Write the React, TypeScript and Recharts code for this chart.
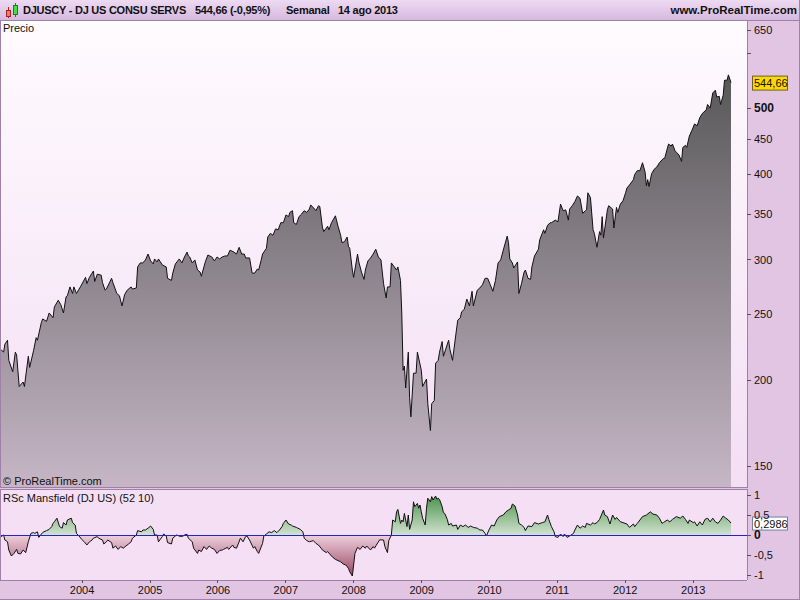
import React from 'react'
import { Area, AreaChart, ReferenceLine, XAxis, YAxis } from 'recharts'

// weekly bars, week 0 = 22 Oct 2002
const START = Date.UTC(2002, 9, 22)
const WEEK_MS = 7 * 24 * 3600 * 1000
const X_DOMAIN: [number, number] = [0, 573.3]

const yearLabels = ['2004', '2005', '2006', '2007', '2008', '2009', '2010', '2011', '2012', '2013']

const priceWeeks = [
  0, 2, 3, 5, 6, 9, 11, 12, 14, 17,
  18, 21, 22, 25, 27, 28, 31, 32, 35, 37,
  40, 41, 44, 46, 48, 50, 51, 53, 55, 56,
  58, 61, 65, 66, 68, 71, 72, 74, 77, 78,
  80, 81, 85, 86, 89, 91, 93, 95, 97, 100,
  101, 104, 105, 107, 109, 111, 113, 115, 117, 118,
  120, 121, 124, 127, 128, 131, 132, 134, 137, 139,
  141, 143, 144, 145, 147, 149, 151, 153, 154, 157,
  159, 162, 164, 166, 168, 170, 172, 174, 176, 179,
  181, 183, 185, 187, 188, 191, 193, 195, 197, 198,
  200, 201, 204, 205, 207, 209, 211, 213, 215, 217,
  219, 221, 222, 224, 225, 227, 229, 231, 233, 235,
  237, 238, 241, 242, 244, 245, 247, 248, 251, 252,
  254, 257, 259, 261, 262, 264, 266, 267, 268, 270,
  271, 274, 275, 277, 279, 280, 282, 284, 286, 288,
  290, 292, 294, 296, 297, 299, 300, 304, 305, 307,
  308, 309, 310, 311, 313, 314, 315, 317, 319, 320,
  323, 324, 327, 328, 330, 331, 333, 334, 336, 337,
  339, 340, 344, 345, 347, 350, 351, 353, 354, 356,
  358, 360, 362, 363, 366, 368, 370, 372, 374, 376,
  378, 380, 382, 384, 386, 389, 390, 391, 393, 394,
  397, 398, 400, 402, 403, 405, 407, 408, 410, 413,
  414, 417, 418, 420, 422, 423, 426, 428, 430, 432,
  434, 436, 437, 439, 441, 443, 445, 447, 450, 451,
  453, 455, 456, 458, 460, 461, 462, 463, 466, 467,
  470, 471, 473, 474, 476, 478, 480, 481, 483, 486,
  487, 489, 491, 493, 495, 496, 497, 498, 500, 502,
  504, 506, 509, 510, 513, 515, 516, 518, 519, 521,
  523, 524, 526, 527, 529, 531, 533, 535, 537, 539,
  542, 543, 545, 547, 549, 550, 552, 553, 555, 556,
  558, 559, 561,
]

const priceValues = [
  222, 220, 226, 229, 214, 206, 220, 218, 196, 199,
  196, 217, 209, 221, 231, 229, 243, 246, 244, 251,
  247, 256, 262, 258, 251, 265, 266, 274, 268, 274,
  268, 274, 283, 277, 283, 289, 279, 286, 285, 278,
  271, 272, 282, 278, 268, 266, 257, 267, 271, 274,
  272, 273, 293, 297, 297, 300, 306, 299, 296, 301,
  298, 301, 295, 293, 282, 280, 287, 296, 301, 297,
  303, 308, 304, 303, 297, 300, 290, 288, 284, 298,
  305, 303, 299, 303, 301, 303, 304, 304, 310, 308,
  306, 313, 306, 306, 302, 302, 287, 287, 291, 290,
  300, 306, 312, 324, 328, 326, 333, 332, 340, 340,
  349, 347, 352, 354, 340, 338, 347, 350, 354, 352,
  356, 361, 356, 354, 360, 359, 335, 330, 336, 332,
  340, 348, 336, 326, 318, 319, 324, 314, 312, 290,
  283, 306, 298, 288, 281, 290, 299, 302, 306, 311,
  303, 300, 277, 264, 274, 274, 297, 290, 293, 280,
  251, 207, 210, 195, 220, 189, 177, 205, 205, 220,
  207, 196, 201, 185, 169, 185, 187, 212, 214, 220,
  228, 217, 229, 222, 214, 237, 245, 247, 252, 254,
  263, 257, 270, 257, 271, 273, 276, 282, 282, 276,
  270, 280, 297, 300, 310, 325, 318, 301, 297, 292,
  298, 268, 277, 288, 290, 282, 281, 293, 304, 311,
  321, 332, 328, 337, 340, 340, 343, 341, 362, 354,
  355, 343, 356, 360, 365, 372, 369, 351, 355, 376,
  370, 332, 328, 313, 330, 326, 347, 323, 355, 360,
  356, 334, 358, 352, 362, 366, 376, 382, 386, 393,
  400, 405, 405, 416, 403, 385, 393, 384, 401, 407,
  410, 416, 422, 422, 443, 440, 443, 433, 431, 427,
  418, 438, 441, 438, 455, 464, 474, 471, 484, 491,
  497, 506, 500, 526, 531, 519, 520, 506, 522, 549,
  549, 559, 544.66,
]

const rscWeeks = [
  0, 2, 3, 5, 6, 8, 10, 12, 13, 15,
  17, 19, 21, 23, 25, 26, 28, 29, 32, 33,
  35, 37, 39, 40, 41, 43, 45, 47, 48, 50,
  51, 54, 55, 57, 58, 60, 62, 64, 66, 68,
  70, 71, 74, 75, 78, 79, 81, 82, 85, 86,
  88, 90, 92, 94, 96, 98, 100, 101, 104, 105,
  108, 109, 111, 113, 115, 117, 118, 120, 121, 124,
  125, 127, 128, 131, 132, 134, 135, 138, 140, 141,
  143, 144, 147, 148, 151, 152, 154, 156, 158, 160,
  162, 164, 166, 168, 170, 171, 174, 175, 178, 179,
  181, 182, 184, 186, 188, 189, 191, 194, 195, 197,
  198, 201, 202, 204, 206, 208, 210, 212, 214, 216,
  217, 219, 221, 223, 224, 227, 230, 232, 233, 235,
  237, 240, 242, 244, 246, 247, 250, 251, 254, 255,
  257, 259, 261, 263, 265, 267, 268, 270, 271, 272,
  274, 276, 278, 280, 281, 284, 286, 287, 289, 291,
  294, 295, 297, 298, 300, 301, 303, 304, 305, 307,
  308, 309, 310, 312, 313, 314, 316, 317, 318, 320,
  321, 322, 323, 324, 326, 327, 328, 330, 331, 332,
  334, 335, 336, 337, 339, 340, 341, 343, 344, 346,
  347, 350, 351, 353, 355, 357, 359, 361, 363, 366,
  368, 370, 372, 373, 375, 377, 379, 381, 383, 386,
  388, 390, 392, 393, 395, 397, 398, 400, 402, 403,
  405, 408, 410, 413, 416, 418, 420, 421, 423, 425,
  426, 428, 430, 432, 433, 435, 437, 440, 441, 443,
  445, 447, 449, 450, 453, 455, 456, 458, 460, 463,
  464, 466, 468, 470, 472, 473, 476, 478, 481, 483,
  486, 487, 489, 491, 493, 496, 499, 501, 504, 506,
  508, 509, 512, 514, 516, 519, 522, 524, 526, 528,
  529, 532, 533, 535, 537, 539, 541, 543, 545, 547,
  549, 551, 553, 555, 557, 559, 561,
]

const rscValues = [
  -0.04, 0, -0.125, -0.17, -0.375, -0.525, -0.46, -0.36, -0.46, -0.475,
  -0.375, -0.44, -0.17, 0.04, 0.06, 0.04, 0.08, -0.06, 0.06, 0.08,
  0.11, 0.14, 0.21, 0.29, 0.33, 0.42, 0.21, 0.17, 0.31, 0.25,
  0.375, 0.42, 0.31, 0.25, 0.04, -0.025, -0.11, -0.17, -0.25, -0.17,
  -0.125, -0.08, -0.04, -0.08, -0.125, -0.225, -0.17, -0.125, -0.19, -0.33,
  -0.275, -0.36, -0.29, -0.33, -0.275, -0.225, -0.17, -0.08, 0, 0.11,
  0.08, 0.125, 0.125, 0.17, 0.225, 0.14, 0, 0, -0.17, -0.04,
  0.025, -0.025, -0.19, -0.225, -0.08, -0.025, 0, -0.04, -0.025, 0,
  0.017, -0.08, -0.17, -0.33, -0.46, -0.375, -0.415, -0.29, -0.36, -0.275,
  -0.33, -0.36, -0.46, -0.39, -0.375, -0.36, -0.31, -0.36, -0.25, -0.31,
  -0.33, -0.25, -0.08, -0.17, -0.04, -0.025, -0.125, -0.33, -0.29, -0.415,
  -0.46, -0.21, -0.025, 0.025, 0.08, 0.06, 0.11, 0.06, 0.125, 0.21,
  0.29, 0.375, 0.275, 0.25, 0.225, 0.19, 0.14, 0.08, -0.08, -0.14,
  -0.17, -0.14, -0.21, -0.25, -0.33, -0.375, -0.44, -0.415, -0.525, -0.56,
  -0.61, -0.64, -0.67, -0.725, -0.75, -0.83, -0.92, -1.025, -0.75, -0.46,
  -0.31, -0.36, -0.275, -0.33, -0.275, -0.375, -0.29, -0.33, -0.225, -0.12,
  -0.125, -0.29, -0.44, -0.14, 0, 0.375, 0.33, 0.58, 0.64, 0.29,
  0.375, 0.33, 0.54, 0.21, 0.5, 0.14, 0.375, 0.83, 0.71, 0.79,
  0.67, 0.75, 0.58, 0.42, 0.25, 0.67, 0.92, 0.83, 0.96, 0.875,
  0.975, 0.89, 0.92, 0.89, 0.71, 0.56, 0.54, 0.39, 0.25, 0.29,
  0.225, 0.25, 0.14, 0.25, 0.21, 0.25, 0.19, 0.225, 0.19, 0.17,
  0.125, 0.125, 0.04, -0.025, 0.125, 0.25, 0.225, 0.375, 0.46, 0.5,
  0.58, 0.625, 0.67, 0.775, 0.725, 0.5, 0.29, 0.25, 0.19, 0.11,
  0.225, 0.21, 0.31, 0.275, 0.31, 0.33, 0.5, 0.39, 0.21, 0.08,
  -0.04, -0.06, 0.025, -0.04, 0.025, -0.06, -0.025, 0.04, 0.125, 0.25,
  0.17, 0.225, 0.19, 0.29, 0.25, 0.31, 0.275, 0.31, 0.39, 0.625,
  0.5, 0.46, 0.275, 0.5, 0.39, 0.44, 0.33, 0.31, 0.275, 0.19,
  0.275, 0.21, 0.29, 0.375, 0.46, 0.5, 0.58, 0.525, 0.5, 0.42,
  0.29, 0.31, 0.375, 0.33, 0.39, 0.46, 0.42, 0.475, 0.39, 0.29,
  0.375, 0.31, 0.33, 0.225, 0.33, 0.25, 0.39, 0.42, 0.33, 0.42,
  0.33, 0.29, 0.375, 0.475, 0.42, 0.375, 0.2986,
]

const priceTicks = [150, 200, 250, 300, 350, 400, 450, 500, 600, 650]
const rscTicks = [-1, -0.5, 0, 0.5, 1]

const lastPrice = priceValues[priceValues.length - 1]
const lastRsc = rscValues[rscValues.length - 1]

const priceData = priceWeeks.map((w, i) => ({ w, price: priceValues[i] }))
const rscData = rscWeeks.map((w, i) => ({ w, rsc: rscValues[i] }))
const yearTicks = yearLabels.map((y) => (Date.UTC(Number(y), 0, 1) - START) / WEEK_MS)

const rscMax = Math.max(0, ...rscValues)
const rscMin = Math.min(0, ...rscValues)
const zeroOffset = rscMax / (rscMax - rscMin)

const FONT = "'Liberation Sans', Arial, sans-serif"
const BORDER = '#9f80a6'
const AXIS_BG = '#e1c5e3'
const TEXT = '#111'

const comma = (v: number) => String(v).replace('.', ',')

function PriceTick({ x, y, payload }: any) {
  const v = payload.value
  if (v === 600) return <g />
  const strong = v === 500
  return (
    <text x={x} y={y} dy="0.36em" fontFamily={FONT} fontSize={strong ? 12 : 11} fontWeight={strong ? 700 : 400} fill={TEXT}>
      {v}
    </text>
  )
}

function RscTick({ x, y, payload }: any) {
  const v = payload.value
  const strong = v === 0
  return (
    <text x={x} y={y} dy="0.36em" fontFamily={FONT} fontSize={strong ? 12 : 11} fontWeight={strong ? 700 : 400} fill={TEXT}>
      {comma(v)}
    </text>
  )
}

function valueTag(text: string, fill: string, stroke: string, h: number) {
  return (props: any) => {
    const vb = props.viewBox
    const x = vb.x + vb.width + 5
    const y = vb.y
    return (
      <g>
        <rect x={x + 0.5} y={y - h / 2 + 0.5} width={35} height={h} fill={fill} stroke={stroke} />
        <text x={x + 2} y={y + 1} dy="0.33em" fontFamily={FONT} fontSize={11} fill={TEXT}>
          {text}
        </text>
      </g>
    )
  }
}

function CandleIcon() {
  return (
    <svg width={18} height={18} style={{ position: 'absolute', left: 2, top: 2 }}>
      <line x1={6.5} y1={5} x2={6.5} y2={16} stroke="#b02020" />
      <rect x={4.5} y={8.5} width={4} height={6} fill="#f07878" stroke="#b02020" />
      <line x1={13.5} y1={1} x2={13.5} y2={15} stroke="#108a10" />
      <rect x={11.5} y={3.5} width={4} height={9} fill="#40e040" stroke="#108a10" />
    </svg>
  )
}

const abs = (s: React.CSSProperties): React.CSSProperties => ({ position: 'absolute', ...s })
const crisp = { shapeRendering: 'crispEdges' } as any

export default function App() {
  const title = { fontSize: 11, fontWeight: 700, whiteSpace: 'pre', letterSpacing: -0.25 } as React.CSSProperties
  return (
    <div style={abs({ left: 0, top: 0, width: 800, height: 600, background: AXIS_BG, overflow: 'hidden', fontFamily: FONT, color: TEXT })}>
      {/* header */}
      <div style={abs({ left: 0, top: 0, width: 800, height: 20, background: 'linear-gradient(#eddaf2, #d6b9df)', borderBottom: `1px solid ${BORDER}` })} />
      <CandleIcon />
      <div style={abs({ left: 23, top: 4, ...title })}>DJUSCY - DJ US CONSU SERVS</div>
      <div style={abs({ left: 195, top: 4, ...title })}>544,66 (-0,95%)</div>
      <div style={abs({ left: 286, top: 4, ...title })}>Semanal</div>
      <div style={abs({ left: 338, top: 4, ...title })}>14 ago 2013</div>
      <div style={abs({ right: 3, top: 4, fontSize: 11.5, fontWeight: 700 })}>www.ProRealTime.com</div>

      {/* panel backgrounds */}
      <div style={abs({ left: 0, top: 21, width: 747, height: 466, background: 'linear-gradient(#fefbfe, #f4def4)', borderLeft: `1px solid ${BORDER}` })} />
      <div style={abs({ left: 0, top: 489, width: 747, height: 91, background: '#f5dff5', borderLeft: `1px solid ${BORDER}`, borderTop: `1px solid ${BORDER}` })} />

      <div style={abs({ left: 0, top: 21 })}>
        <AreaChart width={800} height={466} data={priceData} margin={{ top: 0, right: 0, bottom: 0, left: 1 }}>
          <defs>
            <linearGradient id="priceFill" x1="0" y1="0" x2="0" y2="1">
              <stop offset="0" stopColor="#585858" />
              <stop offset="1" stopColor="#c6b6c6" />
            </linearGradient>
          </defs>
          <XAxis dataKey="w" type="number" domain={X_DOMAIN} allowDataOverflow hide />
          <YAxis
            orientation="right"
            type="number"
            scale="log"
            domain={[139.8, 670]}
            allowDataOverflow
            ticks={priceTicks}
            interval={0}
            width={53}
            tickSize={4}
            tickMargin={3}
            axisLine={{ stroke: BORDER, ...crisp }}
            tickLine={{ stroke: '#555', ...crisp }}
            tick={(p: any) => <PriceTick {...p} />}
          />
          <Area
            type="linear"
            dataKey="price"
            baseValue="dataMin"
            stroke="#111"
            strokeWidth={1}
            fill="url(#priceFill)"
            fillOpacity={1}
            dot={false}
            activeDot={false}
            isAnimationActive={false}
          />
          <ReferenceLine y={lastPrice} stroke="none" label={valueTag(comma(lastPrice), '#ffd800', '#6f6020', 14)} />
        </AreaChart>
      </div>

      <div style={abs({ left: 0, top: 490 })}>
        <AreaChart width={800} height={110} data={rscData} margin={{ top: 0, right: 0, bottom: 0, left: 1 }}>
          <defs>
            <linearGradient id="rscFill" x1="0" y1="0" x2="0" y2="1">
              <stop offset="0" stopColor="#4c944c" />
              <stop offset={zeroOffset} stopColor="#d2e2d0" />
              <stop offset={zeroOffset} stopColor="#eed0de" />
              <stop offset="1" stopColor="#9a4660" />
            </linearGradient>
          </defs>
          <XAxis
            dataKey="w"
            type="number"
            domain={X_DOMAIN}
            allowDataOverflow
            ticks={yearTicks}
            interval={0}
            height={20}
            tickSize={3}
            tickMargin={3}
            axisLine={{ stroke: BORDER, ...crisp }}
            tickLine={{ stroke: '#555', ...crisp }}
            tick={{ fontSize: 11, fill: TEXT, fontFamily: FONT }}
            tickFormatter={(v: number) => yearLabels[yearTicks.indexOf(v)]}
          />
          <YAxis
            orientation="right"
            type="number"
            domain={[-1.125, 1.125]}
            allowDataOverflow
            ticks={rscTicks}
            interval={0}
            width={53}
            tickSize={4}
            tickMargin={3}
            axisLine={{ stroke: BORDER, ...crisp }}
            tickLine={{ stroke: '#555', ...crisp }}
            tick={(p: any) => <RscTick {...p} />}
          />
          <Area
            type="linear"
            dataKey="rsc"
            baseValue={0}
            stroke="#111"
            strokeWidth={1}
            fill="url(#rscFill)"
            fillOpacity={1}
            dot={false}
            activeDot={false}
            isAnimationActive={false}
          />
          <ReferenceLine y={0} stroke="#2424c0" strokeWidth={1} shapeRendering="crispEdges" />
          <ReferenceLine y={lastRsc} stroke="none" label={valueTag(comma(lastRsc), '#ffffff', '#7080a8', 13)} />
        </AreaChart>
      </div>

      {/* panel captions and borders on top */}
      <div style={abs({ left: 3, top: 22, fontSize: 11 })}>Precio</div>
      <div style={abs({ left: 3, top: 475, fontSize: 11 })}>© ProRealTime.com</div>
      <div style={abs({ left: 3, top: 492, fontSize: 11 })}>RSc Mansfield (DJ US) (52 10)</div>
      <div style={abs({ left: 0, top: 487, width: 748, height: 1, background: BORDER })} />
      <div style={abs({ left: 799, top: 0, width: 1, height: 600, background: BORDER })} />
      <div style={abs({ left: 0, top: 599, width: 800, height: 1, background: BORDER })} />
    </div>
  )
}
